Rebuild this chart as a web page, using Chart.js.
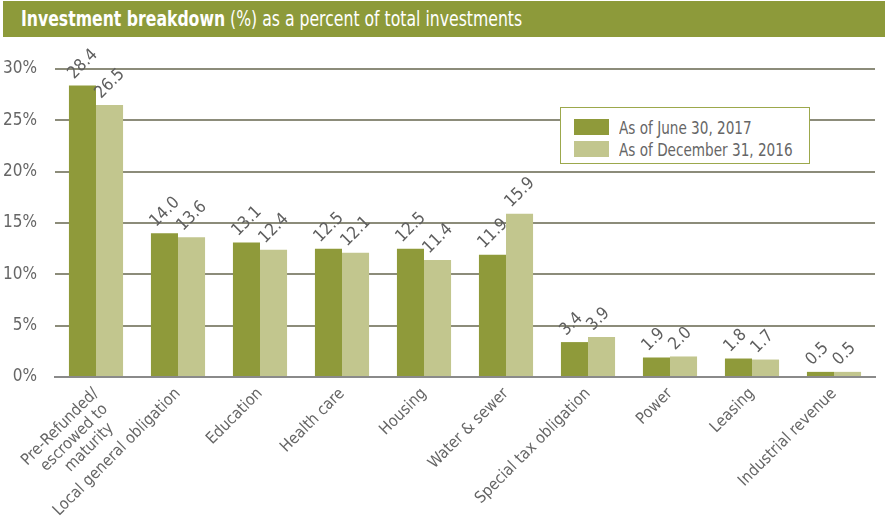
<!DOCTYPE html>
<html>
<head>
<meta charset="utf-8">
<script src="https://cdn.jsdelivr.net/npm/chart.js@4"></script>
<style>
  body { margin: 0; background: #fff; font-family: "DejaVu Sans Condensed", "DejaVu Sans", sans-serif; }
  #wrap { position: relative; width: 885px; height: 524px; }
  #header {
    position: absolute; left: 3px; top: 1px; width: 882px; height: 36px;
    background: #8d9a3a; color: #fff; font-size: 21px; line-height: 36px;
    padding-left: 18px; box-sizing: border-box; white-space: nowrap;
  }
  #header span { display: inline-block; transform: scaleX(0.83); transform-origin: left center; }
  #chartBox { position: absolute; left: 0; top: 40px; width: 885px; height: 484px; }
  #legend {
    position: absolute; left: 560px; top: 107px; width: 250px; height: 57px;
    border: 1.5px solid #9ca84c; background: #fff; box-sizing: border-box;
    padding: 8px 0 0 13px;
  }
  .item { height: 22px; display: flex; align-items: center; color: #666; font-size: 18px; white-space: nowrap; }
  .swatch { width: 35px; height: 16px; margin-right: 10px; flex: none; }
  .txt { display: inline-block; transform: scaleX(0.84); transform-origin: left center; }
</style>
</head>
<body>
<div id="wrap">
  <div id="header"><span><b>Investment breakdown</b> (%) as a percent of total investments</span></div>
  <div id="chartBox"><canvas id="investChart"></canvas></div>
  <div id="legend"></div>
</div>
<script>
const categories = [
    ['Pre-Refunded/', 'escrowed to ', 'maturity   '],
    'Local general obligation',
    'Education',
    'Health care',
    'Housing',
    'Water & sewer',
    'Special tax obligation',
    'Power',
    'Leasing',
    'Industrial revenue'
];
const june2017 = [28.4, 14.0, 13.1, 12.5, 12.5, 11.9, 3.4, 1.9, 1.8, 0.5];
const dec2016 = [26.5, 13.6, 12.4, 12.1, 11.4, 15.9, 3.9, 2.0, 1.7, 0.5];
const yTicks = [0, 5, 10, 15, 20, 25, 30];

const seriesLabels = ['As of June 30, 2017', 'As of December 31, 2016'];
const darkGreen = '#8f9a3a';
const lightGreen = '#c2c68e';
const fontFamily = '"DejaVu Sans Condensed", "DejaVu Sans", sans-serif';

// rotated value labels sitting on top of each bar
const valueLabels = {
    id: 'valueLabels',
    afterDatasetsDraw(chart) {
        const ctx = chart.ctx;
        ctx.save();
        ctx.font = '17px ' + fontFamily;
        ctx.fillStyle = '#5f5f5f';
        ctx.textAlign = 'left';
        ctx.textBaseline = 'alphabetic';
        chart.data.datasets.forEach((ds, i) => {
            chart.getDatasetMeta(i).data.forEach((bar, j) => {
                ctx.save();
                ctx.translate(bar.x - bar.width / 2 + 5, bar.y - 6);
                ctx.rotate(-Math.PI / 4);
                ctx.fillText(ds.data[j].toFixed(1), 0, 0);
                ctx.restore();
            });
        });
        ctx.restore();
    }
};

const ctx = document.getElementById('investChart').getContext('2d');

new Chart(ctx, {
    type: 'bar',
    data: {
        labels: categories,
        datasets: [{
            label: seriesLabels[0],
            data: june2017,
            backgroundColor: darkGreen,
            categoryPercentage: 0.66,
            barPercentage: 1.0
        }, {
            label: seriesLabels[1],
            data: dec2016,
            backgroundColor: lightGreen,
            categoryPercentage: 0.66,
            barPercentage: 1.0
        }]
    },
    options: {
        responsive: true,
        maintainAspectRatio: false,
        animation: false,
        layout: { padding: { top: 29, right: 10, left: 0, bottom: 0 } },
        plugins: {
            legend: { display: false },
            tooltip: { enabled: false }
        },
        scales: {
            x: {
                grid: { display: false },
                border: { color: '#8a8a8a', width: 2 },
                afterFit: axis => { axis.height = 147; },
                ticks: {
                    color: '#666',
                    font: { family: fontFamily, size: 16, lineHeight: 1.1 },
                    maxRotation: 45,
                    minRotation: 45,
                    autoSkip: false,
                    padding: 0
                }
            },
            y: {
                min: 0,
                max: 30,
                afterFit: axis => { axis.width = 55; },
                afterBuildTicks: axis => { axis.ticks = yTicks.map(v => ({ value: v })); },
                border: { display: false },
                grid: {
                    color: '#8c8c7a',
                    lineWidth: 2,
                    drawTicks: false
                },
                ticks: {
                    color: '#666',
                    font: { family: fontFamily, size: 17 },
                    padding: 18,
                    callback: v => v + '%'
                }
            }
        }
    },
    plugins: [valueLabels]
});

// legend box
const legendEl = document.getElementById('legend');
[darkGreen, lightGreen].forEach((c, i) => {
    const item = document.createElement('div');
    item.className = 'item';
    item.innerHTML = '<span class="swatch" style="background:' + c + '"></span><span class="txt">' + seriesLabels[i] + '</span>';
    legendEl.appendChild(item);
});
</script>
</body>
</html>
